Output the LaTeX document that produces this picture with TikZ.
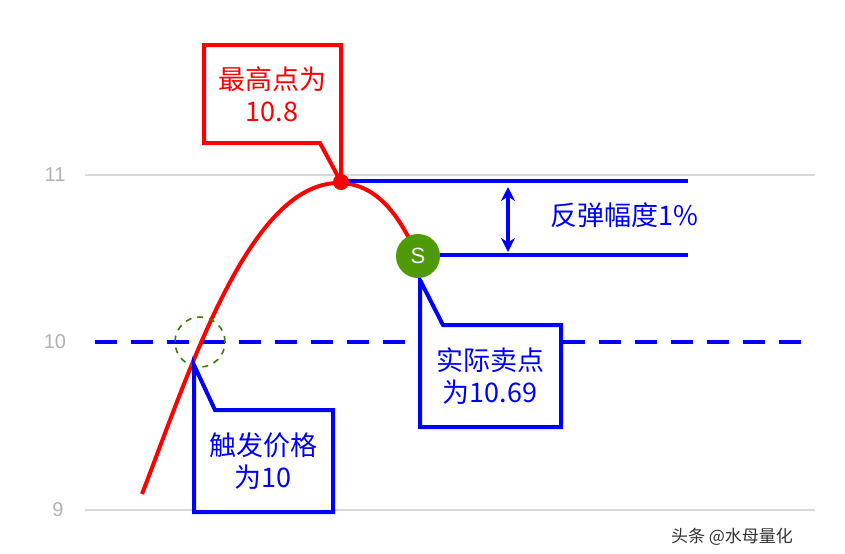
\documentclass[tikz,border=0pt]{standalone}
\usepackage{fontspec}
\usetikzlibrary{arrows.meta}
\setmainfont{Liberation Sans}
\newfontfamily\cjk{Noto Sans CJK SC}
\begin{document}
\begin{tikzpicture}[x=0.5pt,y=-0.5pt,
  grid/.style={draw=gray!30,line width=0.6pt},
  axlbl/.style={text=gray!60,font=\fontsize{10}{12}\selectfont},
  call/.style={line width=2pt,fill=white,line join=miter},
  ctext/.style={font=\cjk\fontsize{13.5}{16}\selectfont,align=center}]
\useasboundingbox (0,0) rectangle (845,553);
\definecolor{sgreen}{HTML}{4E9A06}
% grid
\draw[grid] (85,175) -- (815,175);
\draw[grid] (85,510) -- (815,510);
\node[axlbl] (l11) at (55,175) {11};
\node[axlbl] (l10) at (55,342) {10};
\node[axlbl] (l9) at (58,510) {9};
\draw[blue,line width=2pt,dash pattern=on 11pt off 7pt] (95,342) -- (815,342);
% curve
\draw[red,line width=2pt] (142,494) .. controls (190,370) and (250,180) .. (341,183) .. controls (385,185) and (405,230) .. (418,256);
\node[circle,draw=sgreen!80!black,dashed,line width=0.8pt,minimum size=25pt] (trig) at (200,342) {};
% blue lines
\draw[blue,line width=2pt] (341,181) -- (688,181);
\draw[blue,line width=2pt] (440,255) -- (688,255);
\coordinate (a1) at (508,187); \coordinate (a2) at (508,252);
\draw[blue,line width=2pt,<->,>={Stealth[length=7pt,width=7pt]}] (a1) -- (a2);
\node[ctext,text=blue] (amp) at (624,215) {反弹幅度1\%};
% callouts
\draw[call,draw=red] (204,45) -- (341,45) -- (341,182) -- (320,143) -- (204,143) -- cycle;
\node[ctext,text=red] (hi) at (272,94) {最高点为\\10.8};
\node[circle,fill=red,minimum size=8pt,inner sep=0] (peak) at (341,182) {};
\draw[call,draw=blue] (194,410) -- (194,365) -- (215,410) -- (333,410) -- (333,512) -- (194,512) -- cycle;
\node[ctext,text=blue] (trg) at (263,461) {触发价格\\为10};
\draw[call,draw=blue] (420,427) -- (420,280) -- (443,325) -- (561,325) -- (561,427) -- cycle;
\node[ctext,text=blue] (sell) at (490,376) {实际卖点\\为10.69};
\node[circle,fill=sgreen,minimum size=22pt,inner sep=0,text=white,font=\fontsize{11}{12}\selectfont] (S) at (418,256) {S};
\node[font=\cjk\fontsize{8.5}{10}\selectfont,text=black!80] (wm) at (732,537) {头条 @水母量化};
\end{tikzpicture}
\end{document}
